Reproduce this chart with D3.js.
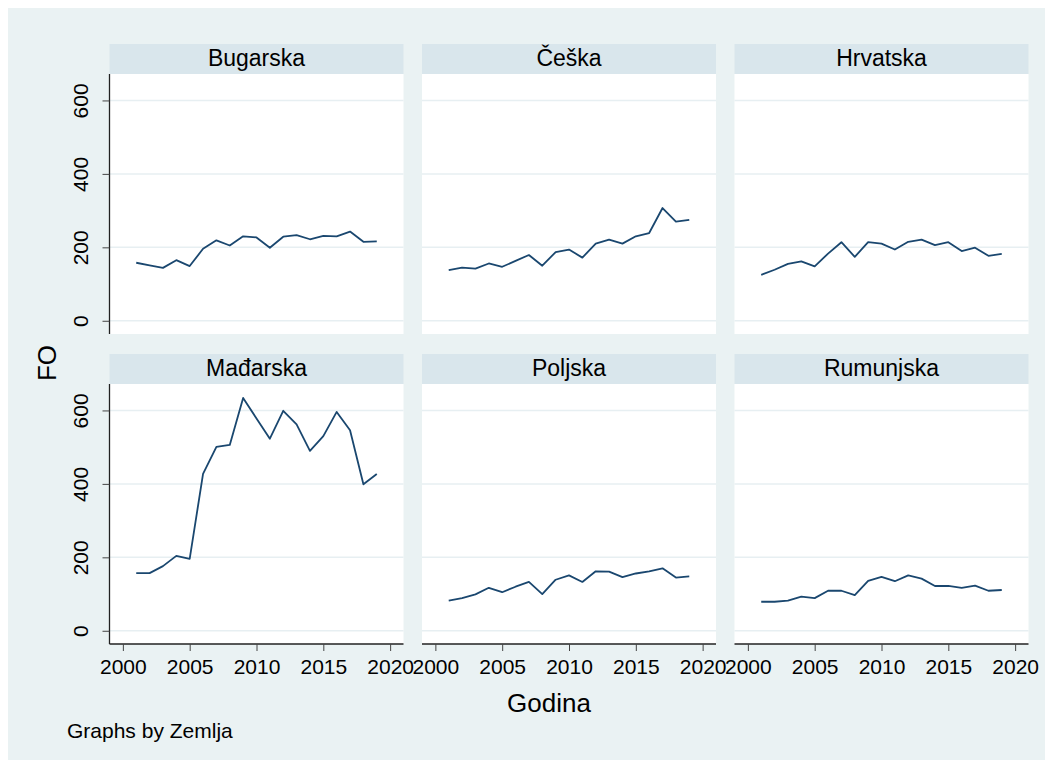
<!DOCTYPE html>
<html>
<head>
<meta charset="utf-8">
<script src="https://cdn.jsdelivr.net/npm/d3@7"></script>
<style>
  body { margin: 0; background: #fff; }
  text { font-family: "Liberation Sans", Arial, sans-serif; fill: #000; }
</style>
</head>
<body>
<svg id="chart" width="1053" height="769"></svg>
<script>
var years = [2001, 2002, 2003, 2004, 2005, 2006, 2007, 2008, 2009, 2010,
             2011, 2012, 2013, 2014, 2015, 2016, 2017, 2018, 2019];

var countries = ['Bugarska', 'Češka', 'Hrvatska', 'Mađarska', 'Poljska', 'Rumunjska'];

var bugarska  = [158, 151, 144, 165, 149, 196, 219, 205, 230, 227, 199, 229, 233, 222, 231, 230, 243, 215, 216];
var ceska     = [138, 145, 142, 156, 147, 163, 179, 150, 187, 194, 172, 210, 221, 210, 230, 239, 307, 270, 275];
var hrvatska  = [125, 139, 155, 162, 148, 183, 214, 174, 214, 210, 194, 215, 221, 206, 214, 190, 199, 177, 182];
var madjarska = [157, 157, 176, 204, 196, 427, 501, 506, 634, 578, 523, 599, 562, 490, 530, 596, 546, 399, 427];
var poljska   = [82, 89, 99, 117, 105, 120, 133, 100, 139, 151, 133, 162, 161, 146, 156, 162, 170, 145, 148];
var rumunjska = [79, 79, 82, 93, 89, 109, 109, 97, 136, 147, 135, 151, 142, 122, 122, 117, 123, 109, 111];

var series = [bugarska, ceska, hrvatska, madjarska, poljska, rumunjska];

var yTicks = [0, 200, 400, 600];
var xTicks = [2000, 2005, 2010, 2015, 2020];

var svg = d3.select('#chart');

var colX = [109.5, 422, 734.5],
  rowY = [44, 354],
  panelW = 294,
  stripH = 30,
  plotH = 260,
  lineColor = '#1a476f',
  gridColor = '#e7eff2',
  bgColor = '#eaf2f3';

svg.append('rect')
  .attr('x', 8).attr('y', 8)
  .attr('width', 1037).attr('height', 752)
  .style('fill', bgColor);

var x = d3.scaleLinear().domain([1999, 2021]).range([0, panelW]);
var y = d3.scaleLinear().domain([-36, 672]).range([plotH, 0]);

var line = d3.line()
  .x(function(d, i) { return x(years[i]); })
  .y(function(d) { return y(d); });

countries.forEach(function(name, k) {
  var col = k % 3, row = Math.floor(k / 3);
  var g = svg.append('g')
    .attr('transform', 'translate(' + colX[col] + ',' + rowY[row] + ')');

  // strip with country name
  g.append('rect')
    .attr('width', panelW).attr('height', stripH)
    .style('fill', '#d9e6ec');
  g.append('text')
    .attr('x', panelW / 2).attr('y', 22)
    .attr('text-anchor', 'middle')
    .style('font-size', '23px')
    .text(name);

  var p = g.append('g').attr('transform', 'translate(0,' + stripH + ')');

  p.append('rect')
    .attr('width', panelW).attr('height', plotH)
    .style('fill', '#fff');

  p.selectAll('line.grid')
    .data(yTicks)
    .enter().append('line')
    .attr('class', 'grid')
    .attr('x1', 0).attr('x2', panelW)
    .attr('y1', function(d) { return y(d); })
    .attr('y2', function(d) { return y(d); })
    .style('stroke', gridColor)
    .style('stroke-width', 1.5);

  p.append('path')
    .datum(series[k])
    .attr('d', line)
    .style('fill', 'none')
    .style('stroke', lineColor)
    .style('stroke-width', 1.8)
    .style('stroke-linejoin', 'round');

  if (col === 0) {
    var ya = p.append('g')
      .call(d3.axisLeft(y).tickValues(yTicks).tickSize(7).tickPadding(0).tickFormat(d3.format('d')));
    ya.select('.domain').attr('d', 'M0,0V' + plotH).style('stroke', '#222').style('stroke-width', 1.3);
    ya.selectAll('.tick line').style('stroke', '#444');
    ya.selectAll('.tick text')
      .attr('x', null).attr('dy', null)
      .attr('transform', 'translate(-22,0) rotate(-90)')
      .attr('text-anchor', 'middle')
      .style('font-size', '21px')
      .style('font-family', '"Liberation Sans", Arial, sans-serif');
  }

  if (row === 1) {
    var xa = p.append('g')
      .attr('transform', 'translate(0,' + plotH + ')')
      .call(d3.axisBottom(x).tickValues(xTicks).tickSize(7).tickPadding(8).tickFormat(d3.format('d')));
    xa.select('.domain').attr('d', 'M0,0H' + panelW).style('stroke', '#222').style('stroke-width', 1.3);
    xa.selectAll('.tick line').style('stroke', '#444');
    xa.selectAll('.tick text')
      .attr('dy', '0.71em')
      .style('font-size', '21px')
      .style('font-family', '"Liberation Sans", Arial, sans-serif');
  }
});

svg.append('text')
  .attr('transform', 'translate(56,363) rotate(-90)')
  .attr('text-anchor', 'middle')
  .style('font-size', '26px')
  .text('FO');

svg.append('text')
  .attr('x', 549).attr('y', 712)
  .attr('text-anchor', 'middle')
  .style('font-size', '26px')
  .text('Godina');

svg.append('text')
  .attr('x', 67).attr('y', 738)
  .style('font-size', '21px')
  .text('Graphs by Zemlja');
</script>
</body>
</html>
